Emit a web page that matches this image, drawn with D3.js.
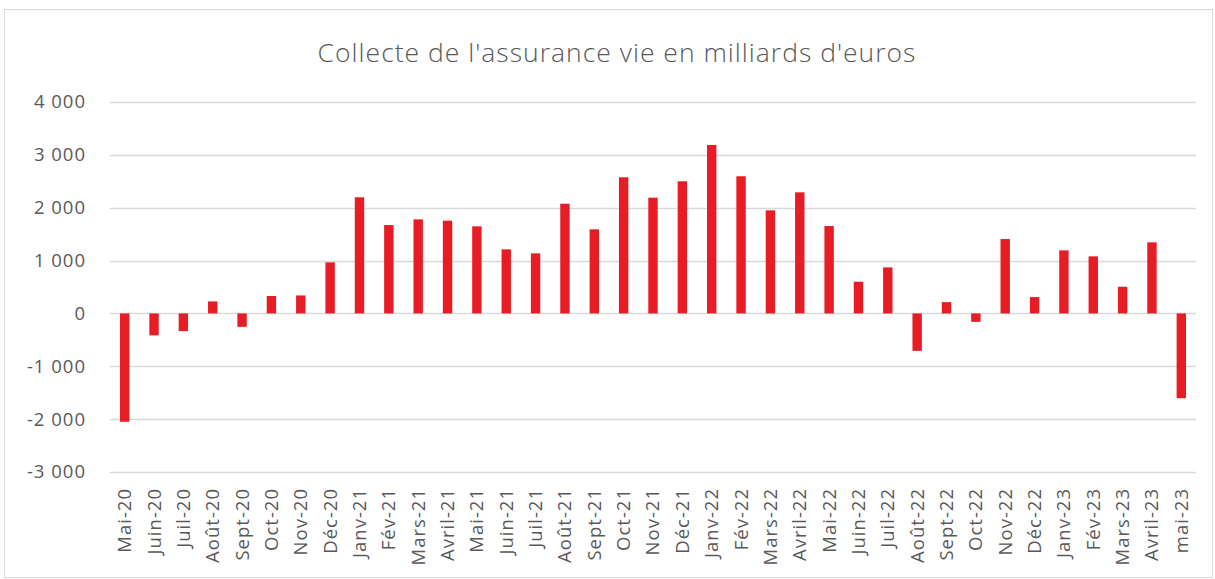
<!DOCTYPE html>
<html>
<head>
<meta charset="utf-8">
<script src="https://cdn.jsdelivr.net/npm/d3@7"></script>
<style>
  body { margin: 0; background: #fff; }
  svg { display: block; }
</style>
</head>
<body>
<script>
const months = ["Mai-20","Juin-20","Juil-20","Août-20","Sept-20","Oct-20","Nov-20","Déc-20",
  "Janv-21","Fév-21","Mars-21","Avril-21","Mai-21","Juin-21","Juil-21","Août-21","Sept-21","Oct-21","Nov-21","Déc-21",
  "Janv-22","Fév-22","Mars-22","Avril-22","Mai-22","Juin-22","Juil-22","Août-22","Sept-22","Oct-22","Nov-22","Déc-22",
  "Janv-23","Fév-23","Mars-23","Avril-23","mai-23"]
const collecte = [-2050,-415,-335,227,-253,330,340,966,
  2197,1672,1780,1754,1648,1212,1136,2076,1591,2576,2190,2500,
  3188,2595,1950,2291,1653,600,871,-708,214,-159,1407,309,
  1193,1080,504,1345,-1604]
const yTicks = [-3000,-2000,-1000,0,1000,2000,3000,4000]
const title = "Collecte de l'assurance vie en milliards d'euros"

const width = 1215, height = 579
const margin = ({ top: 102, right: 19, bottom: 107, left: 110 })

const svg = d3.select('body').append('svg')
  .attr('width', width)
  .attr('height', height)
  .attr('viewBox', [0, 0, width, height])

// cadre
svg.append('rect')
  .attr('x', 4.5).attr('y', 9.5)
  .attr('width', width - 7).attr('height', height - 11)
  .attr('fill', 'none')
  .attr('stroke', '#d9d9d9')

const x = d3.scaleBand()
  .domain(months)
  .range([margin.left, width - margin.right])
  .paddingInner(0.68)
  .paddingOuter(0.34)

const y = d3.scaleLinear()
  .domain([-3000, 4000])
  .range([height - margin.bottom, margin.top])

const fmt = v => d3.format(',')(v).replace(/,/g, ' ').replace('−', '-')

// grille
svg.append('g')
  .selectAll('line')
  .data(yTicks)
  .join('line')
    .attr('x1', margin.left)
    .attr('x2', width - margin.right)
    .attr('y1', d => Math.round(y(d)) + 0.5)
    .attr('y2', d => Math.round(y(d)) + 0.5)
    .attr('stroke', '#d9d9d9')
    .attr('stroke-width', 1.3)

// axe y
svg.append('g')
  .attr('transform', `translate(${margin.left - 21}, 0)`)
  .call(d3.axisLeft(y).tickValues(yTicks).tickFormat(fmt).tickSize(0))
  .call(g => g.select('.domain').remove())
  .call(g => g.selectAll('text')
    .attr('font-family', 'Open Sans, sans-serif')
    .attr('font-size', 18.5)
    .attr('letter-spacing', 1)
    .attr('fill', '#595959'))

// barres
svg.append('g')
  .attr('fill', '#e81c24')
  .selectAll('rect')
  .data(collecte)
  .join('rect')
    .attr('x', (d, i) => x(months[i]))
    .attr('y', d => y(Math.max(0, d)))
    .attr('width', x.bandwidth())
    .attr('height', d => Math.abs(y(d) - y(0)))

// axe x
svg.append('g')
  .attr('transform', `translate(0, ${y(-3000)})`)
  .call(d3.axisBottom(x).tickSize(0))
  .call(g => g.select('.domain').remove())
  .call(g => g.selectAll('text')
    .attr('font-family', 'Open Sans, sans-serif')
    .attr('font-size', 18.5)
    .attr('letter-spacing', 1)
    .attr('fill', '#595959')
    .attr('text-anchor', 'end')
    .attr('dy', '0.35em')
    .attr('transform', 'translate(0,16) rotate(-90)')
    .attr('x', 0)
    .attr('y', 0))

// titre
svg.append('text')
  .attr('x', 617)
  .attr('y', 62)
  .attr('text-anchor', 'middle')
  .attr('font-family', 'Open Sans, sans-serif')
  .attr('font-weight', 300)
  .attr('font-size', 26.5)
  .attr('letter-spacing', 1)
  .attr('fill', '#595959')
  .text(title)
</script>
</body>
</html>
